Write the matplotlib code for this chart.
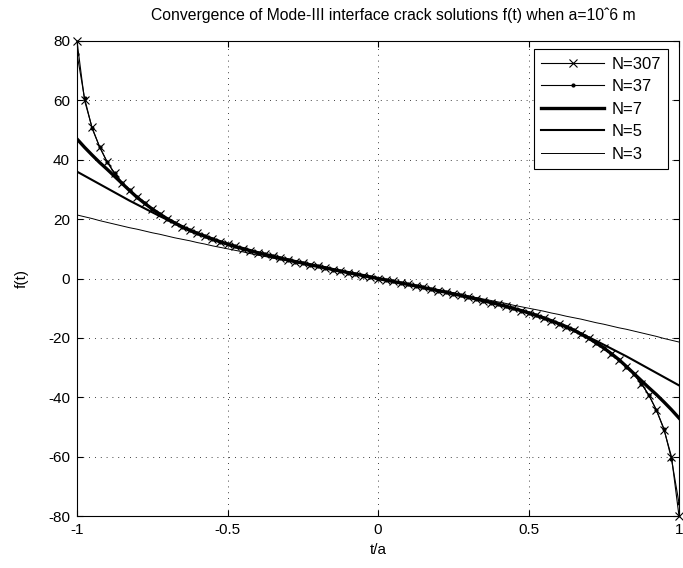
import numpy as np
import matplotlib
matplotlib.use("Agg")
import matplotlib.pyplot as plt

plt.rcParams['font.family'] = ['Liberation Sans', 'DejaVu Sans']
plt.rcParams['axes.unicode_minus'] = False

t = np.linspace(-1, 1, 81)

f_307 = [80.0, 60.0, 50.9, 44.3, 39.3, 35.4, 32.3, 29.7, 27.4, 25.4, 23.5, 21.8, 20.2, 18.8, 17.5, 16.3,
         15.2, 14.2, 13.3, 12.4, 11.6, 10.8, 10.1, 9.4, 8.7, 8.1, 7.5, 6.9, 6.3, 5.7, 5.2, 4.6, 4.1, 3.6,
         3.0, 2.5, 2.0, 1.5, 1.0, 0.5, 0.0,
         -0.5, -1.0, -1.5, -2.0, -2.5, -3.0, -3.6, -4.1, -4.6, -5.2, -5.7, -6.3, -6.9, -7.5, -8.1, -8.7,
         -9.4, -10.1, -10.8, -11.6, -12.4, -13.3, -14.2, -15.2, -16.3, -17.5, -18.8, -20.2, -21.8, -23.5,
         -25.4, -27.4, -29.7, -32.3, -35.4, -39.3, -44.3, -50.9, -60.0, -80.0]

f_37 = [75.7, 60.8, 50.6, 44.4, 39.3, 35.4, 32.3, 29.7, 27.4, 25.4, 23.5, 21.8, 20.2, 18.8, 17.5, 16.3,
        15.2, 14.2, 13.3, 12.4, 11.6, 10.8, 10.1, 9.4, 8.7, 8.1, 7.5, 6.9, 6.3, 5.7, 5.2, 4.6, 4.1, 3.6,
        3.0, 2.5, 2.0, 1.5, 1.0, 0.5, 0.0,
        -0.5, -1.0, -1.5, -2.0, -2.5, -3.0, -3.6, -4.1, -4.6, -5.2, -5.7, -6.3, -6.9, -7.5, -8.1, -8.7,
        -9.4, -10.1, -10.8, -11.6, -12.4, -13.3, -14.2, -15.2, -16.3, -17.5, -18.8, -20.2, -21.8, -23.5,
        -25.4, -27.4, -29.7, -32.3, -35.4, -39.3, -44.4, -50.6, -60.8, -75.7]

f_7 = [47.0, 44.2, 41.6, 39.1, 36.8, 34.4, 32.0, 29.6, 27.3, 25.3, 23.4, 21.7, 20.1, 18.7, 17.4, 16.2,
       15.2, 14.2, 13.3, 12.4, 11.6, 10.8, 10.1, 9.4, 8.7, 8.1, 7.5, 6.9, 6.3, 5.7, 5.2, 4.6, 4.1, 3.6,
       3.0, 2.5, 2.0, 1.5, 1.0, 0.5, 0.0,
       -0.5, -1.0, -1.5, -2.0, -2.5, -3.0, -3.6, -4.1, -4.6, -5.2, -5.7, -6.3, -6.9, -7.5, -8.1, -8.7,
       -9.4, -10.1, -10.8, -11.6, -12.4, -13.3, -14.2, -15.2, -16.2, -17.4, -18.7, -20.1, -21.7, -23.4,
       -25.3, -27.3, -29.6, -32.0, -34.4, -36.8, -39.1, -41.6, -44.2, -47.0]

f_5 = [36.0, 34.6, 33.2, 31.8, 30.4, 29.0, 27.6, 26.2, 24.9, 23.6, 22.3, 21.0, 19.8, 18.6, 17.4, 16.3,
       15.2, 14.2, 13.2, 12.3, 11.5, 10.7, 10.0, 9.3, 8.6, 8.0, 7.4, 6.8, 6.2, 5.7, 5.1, 4.6, 4.1, 3.6,
       3.0, 2.5, 2.0, 1.5, 1.0, 0.5, 0.0,
       -0.5, -1.0, -1.5, -2.0, -2.5, -3.0, -3.6, -4.1, -4.6, -5.1, -5.7, -6.2, -6.8, -7.4, -8.0, -8.6,
       -9.3, -10.0, -10.7, -11.5, -12.3, -13.2, -14.2, -15.2, -16.3, -17.4, -18.6, -19.8, -21.0, -22.3,
       -23.6, -24.9, -26.2, -27.6, -29.0, -30.4, -31.8, -33.2, -34.6, -36.0]

f_3 = [21.4, 20.8, 20.2, 19.5, 18.9, 18.3, 17.7, 17.1, 16.6, 16.0, 15.4, 14.9, 14.3, 13.7, 13.2, 12.7,
       12.1, 11.6, 11.0, 10.5, 10.0, 9.5, 9.0, 8.4, 7.9, 7.4, 6.9, 6.4, 5.9, 5.4, 4.9, 4.4, 3.9, 3.4,
       2.9, 2.4, 2.0, 1.5, 1.0, 0.5, 0.0,
       -0.5, -1.0, -1.5, -2.0, -2.4, -2.9, -3.4, -3.9, -4.4, -4.9, -5.4, -5.9, -6.4, -6.9, -7.4, -7.9,
       -8.4, -9.0, -9.5, -10.0, -10.5, -11.0, -11.6, -12.1, -12.7, -13.2, -13.7, -14.3, -14.9, -15.4,
       -16.0, -16.6, -17.1, -17.7, -18.3, -18.9, -19.5, -20.2, -20.8, -21.4]

labels = ["N=307", "N=37", "N=7", "N=5", "N=3"]
x_ticks = [-1, -0.5, 0, 0.5, 1]
x_ticklabels = ["-1", "-0.5", "0", "0.5", "1"]
y_ticks = [-80, -60, -40, -20, 0, 20, 40, 60, 80]

fig = plt.figure(figsize=(6.83, 5.68), dpi=100)
ax = fig.add_axes([77/683, 1 - 516/568, 602/683, 475/568])

ax.plot(t, f_307, color='k', lw=0.8, marker='x', ms=6, mew=0.8, label=labels[0], clip_on=False)
ax.plot(t, f_37, color='k', lw=0.8, marker='.', ms=4, label=labels[1])
ax.plot(t, f_7, color='k', lw=2.4, label=labels[2])
ax.plot(t, f_5, color='k', lw=1.5, label=labels[3])
ax.plot(t, f_3, color='k', lw=0.7, label=labels[4])

ax.set_xlim(-1, 1)
ax.set_ylim(-80, 80)
ax.set_xticks(x_ticks)
ax.set_xticklabels(x_ticklabels)
ax.set_yticks(y_ticks)
ax.grid(True, color='k', linestyle=(0, (1, 6)), linewidth=0.6)
ax.tick_params(direction='in', top=True, right=True, length=4, width=0.8, labelsize=11, pad=5)
for s in ax.spines.values():
    s.set_linewidth(0.8)

ax.set_xlabel("t/a", fontsize=11, labelpad=4)
ax.set_ylabel("f(t)", fontsize=11, labelpad=14)
ax.set_title("Convergence of Mode-III interface crack solutions f(t) when a=10\u02c66 m",
             fontsize=11.3, pad=15, x=0.525)

leg = ax.legend(loc='upper right', bbox_to_anchor=(0.982, 0.983), fontsize=12, frameon=True,
                fancybox=False, edgecolor='k', framealpha=1, handlelength=3.8,
                borderpad=0.45, labelspacing=0.45, handletextpad=0.4, borderaxespad=0)
leg.get_frame().set_linewidth(0.8)

fig.savefig("out.png", dpi=100)
